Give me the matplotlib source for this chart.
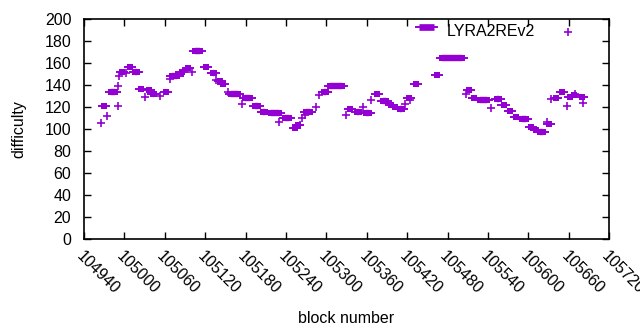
import matplotlib
matplotlib.use('Agg')
import matplotlib.pyplot as plt

plt.rcParams['font.family'] = ['Liberation Sans', 'DejaVu Sans']

# runs of blocks with the same difficulty (first block, last block, difficulty)
seg_start = [104970, 104980, 104997, 105009, 105016, 105025, 105036, 105043, 105062, 105071,
             105085, 105094, 105105, 105121, 105132, 105142, 105147, 105159, 105179, 105194,
             105206, 105218, 105239, 105253, 105258, 105270, 105297, 105306, 105335, 105346,
             105359, 105375, 105384, 105396, 105402, 105409, 105423, 105433, 105464, 105472,
             105512, 105519, 105528, 105554, 105563, 105573, 105582, 105590, 105604, 105611,
             105617, 105631, 105641, 105650, 105662, 105668, 105679]
seg_end = [104970, 104986, 104997, 105009, 105019, 105025, 105036, 105044, 105062, 105079,
           105085, 105094, 105112, 105121, 105133, 105142, 105147, 105169, 105186, 105198,
           105209, 105229, 105245, 105253, 105258, 105276, 105299, 105323, 105335, 105348,
           105363, 105375, 105389, 105396, 105402, 105412, 105423, 105433, 105464, 105502,
           105512, 105519, 105538, 105556, 105563, 105573, 105582, 105596, 105604, 105611,
           105622, 105631, 105641, 105650, 105662, 105668, 105679]
seg_diff = [121, 133.5, 152.5, 157, 152.5, 137, 135.5, 132, 133.5, 148,
            152.5, 155.5, 171, 156.5, 151, 144, 141.5, 132, 128, 121.5,
            116, 114.5, 110, 101, 104, 115.5, 134, 139.5, 118.5, 115.5,
            115, 132, 125.5, 122, 120.5, 118, 128, 141, 149, 164.5,
            135.5, 128, 126.5, 127.5, 122.5, 116.5, 111.5, 109.5, 102.5, 99.5,
            97.5, 105, 128, 133.5, 129, 131, 129]

# single blocks
pt_block = [104966, 104975, 104991, 104991, 104992, 105003, 105031, 105053, 105068, 105101,
            105136, 105154, 105175, 105230, 105261, 105264, 105268, 105284, 105289, 105329,
            105354, 105367, 105417, 105424, 105507, 105544, 105628, 105634, 105657, 105669,
            105681]
pt_diff = [106, 112.5, 139.5, 121, 148.5, 151.5, 129, 130, 145.5, 152,
           145, 134, 123, 106.5, 104, 110, 113, 120, 131, 113,
           120, 126.5, 123, 127, 132, 119, 107, 127.5, 121, 132.5,
           124]

x_ticks = list(range(104940, 105721, 60))
y_ticks = list(range(0, 201, 20))

color = '#9400d3'
ext = 9  # error bar overhang in blocks
fs = 11.5

fig = plt.figure(figsize=(6.4, 3.3), dpi=100)
ax = fig.add_axes([0.131, 0.275, 0.821, 0.6665])

for x0, x1, y in zip(seg_start, seg_end, seg_diff):
    ax.plot([x0 - ext, x1 + ext], [y, y], color=color, lw=1.4, solid_capstyle='butt')
    ax.plot([x0, x1], [y, y], color=color, lw=4.6, solid_capstyle='butt')
    ax.plot([x0, x1], [y, y], 's', color=color, ms=4.6, mew=0)

ax.plot(pt_block, pt_diff, '+', color=color, ms=6, mew=1.2, ls='none')

ax.set_xlim(104940, 105720)
ax.set_ylim(0, 200)
ax.set_xticks(x_ticks)
ax.set_yticks(y_ticks)
ax.set_xticklabels([str(t) for t in x_ticks], rotation=-45, ha='left', va='top',
                   rotation_mode='anchor')
ax.tick_params(direction='in', length=5, top=True, right=True, labelsize=fs, width=1)
ax.tick_params(axis='x', pad=7)
ax.tick_params(axis='y', pad=9)
for s in ax.spines.values():
    s.set_linewidth(1.2)

ax.set_xlabel('block number', fontsize=fs, labelpad=10)
ax.set_ylabel('difficulty', fontsize=fs, labelpad=13)

# key, laid out like the gnuplot one
ax.plot([0.632, 0.672], [0.964, 0.964], color=color, lw=1.4, transform=ax.transAxes)
ax.plot([0.638, 0.667], [0.964, 0.964], color=color, lw=4.8, solid_capstyle='butt',
        transform=ax.transAxes)
ax.text(0.691, 0.944, 'LYRA2REv2', transform=ax.transAxes, fontsize=fs,
        ha='left', va='center')
ax.plot([0.921], [0.941], '+', color=color, ms=6, mew=1.2, transform=ax.transAxes)

fig.savefig('out.png', dpi=100)
